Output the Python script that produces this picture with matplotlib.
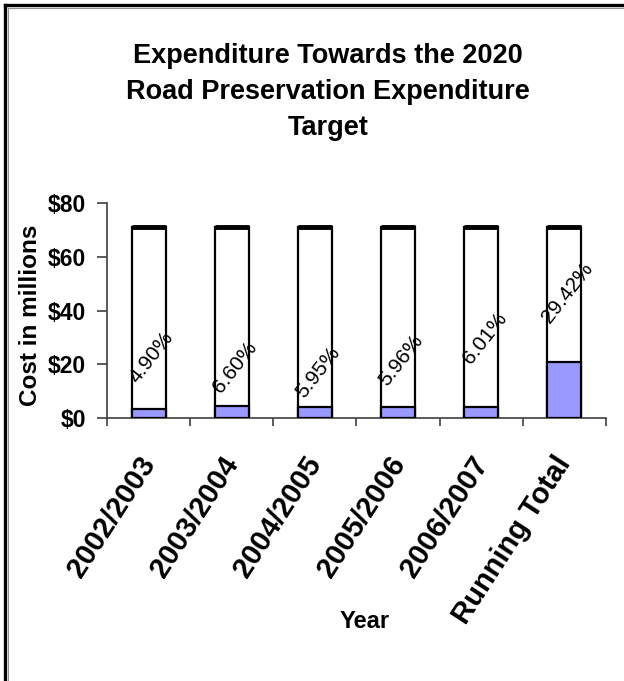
import matplotlib
matplotlib.use("Agg")
import matplotlib.pyplot as plt
from matplotlib.lines import Line2D
import numpy as np

categories = ["2002/2003", "2003/2004", "2004/2005", "2005/2006", "2006/2007", "Running Total"]
expenditure = [3.48, 4.69, 4.22, 4.23, 4.27, 20.89]
target = [71, 71, 71, 71, 71, 71]
pct_labels = ["4.90%", "6.60%", "5.95%", "5.96%", "6.01%", "29.42%"]

# label centre heights (layout only)
label_y = [22.7, 19.0, 17.0, 21.6, 29.7, 46.5]

plt.rcParams["font.family"] = ["Liberation Sans", "DejaVu Sans"]

fig = plt.figure(figsize=(6.24, 6.81), dpi=100)
ax = fig.add_axes([0.1715, 0.386, 0.7995, 0.316])

x = np.arange(len(categories)) + 0.5
width = 0.41
ax.bar(x, target, width, color="white", edgecolor="black", linewidth=1.6, zorder=2)
ax.bar(x, expenditure, width, color="#9999ff", edgecolor="black", linewidth=1.6, zorder=3)
for xi, t in zip(x, target):
    ax.plot([xi - width / 2, xi + width / 2], [t, t], color="black", lw=3.5,
            solid_capstyle="butt", zorder=4)

for xi, ly, lab in zip(x, label_y, pct_labels):
    ax.text(xi + 0.04, ly, lab, rotation=52, ha="center", va="center",
            fontsize=15, zorder=5)

ax.set_xlim(0, len(categories))
ax.set_ylim(0, 80)
ax.set_yticks([0, 20, 40, 60, 80])
ax.set_yticklabels(["$0", "$20", "$40", "$60", "$80"], fontsize=16.5, fontweight="bold")
ax.set_xticks(np.arange(len(categories) + 1))
ax.set_xticklabels([])
ax.set_xticks(x - 0.13, minor=True)
ax.set_xticklabels(categories, minor=True, rotation=57, ha="right",
                   rotation_mode="anchor", fontsize=21, fontweight="bold")
ax.tick_params(axis="x", which="minor", length=0, pad=24)
ax.tick_params(axis="x", which="major", length=6, width=1.2, color="#404040")
ax.tick_params(axis="y", length=7, width=1.2, color="#404040", pad=8)
ax.spines["top"].set_visible(False)
ax.spines["right"].set_visible(False)
ax.spines["left"].set_color("#404040")
ax.spines["bottom"].set_color("#404040")
ax.spines["left"].set_linewidth(1.2)
ax.spines["bottom"].set_linewidth(1.2)

ax.set_ylabel("Cost in millions", fontsize=17.5, fontweight="bold")
ax.yaxis.set_label_coords(-0.13, 0.48)
fig.text(0.585, 1 - 621 / 681, "Year", ha="center", va="center",
         fontsize=17, fontweight="bold")
fig.text(0.526, 1 - 92 / 681,
         "Expenditure Towards the 2020\nRoad Preservation Expenditure\nTarget",
         ha="center", va="center", fontsize=19.5, fontweight="bold", linespacing=1.48)

# frame edges visible on the left and top
fig.add_artist(Line2D([4.5 / 624, 4.5 / 624], [0, 1 - 4.5 / 681], color="black", lw=2.4,
                      transform=fig.transFigure))
fig.add_artist(Line2D([4.5 / 624, 1], [1 - 4.5 / 681, 1 - 4.5 / 681], color="black", lw=2.4,
                      transform=fig.transFigure))
fig.add_artist(Line2D([7.5 / 624, 7.5 / 624], [0, 1 - 7.5 / 681], color="#909090", lw=0.8,
                      transform=fig.transFigure))
fig.add_artist(Line2D([7.5 / 624, 1], [1 - 7.5 / 681, 1 - 7.5 / 681], color="#909090", lw=0.8,
                      transform=fig.transFigure))

fig.savefig("out.png", dpi=100)
